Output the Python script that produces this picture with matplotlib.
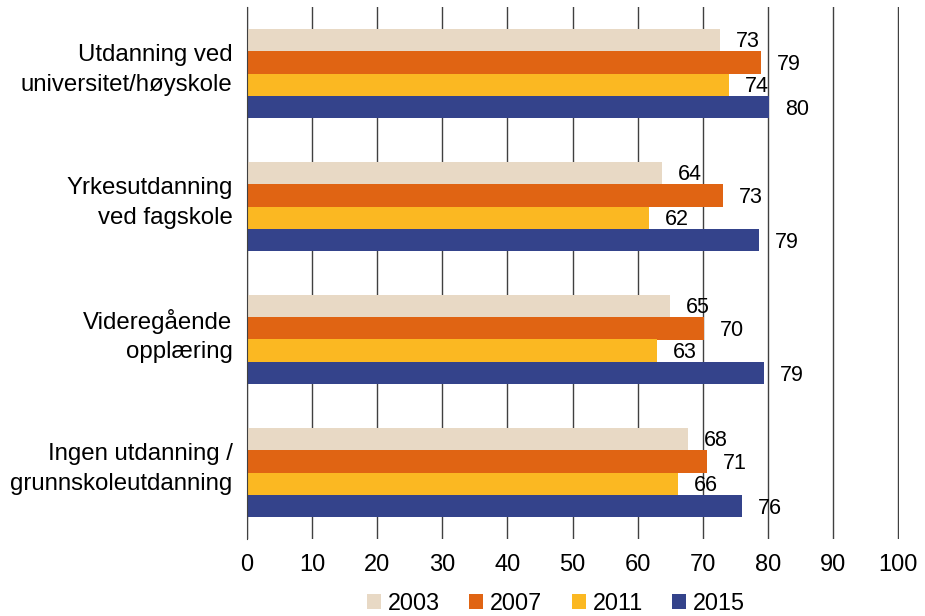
import matplotlib
matplotlib.use("Agg")
import matplotlib.pyplot as plt
import numpy as np

CATEGORIES = [
    "Utdanning ved\nuniversitet/høyskole",
    "Yrkesutdanning\nved fagskole",
    "Videregående\nopplæring",
    "Ingen utdanning /\ngrunnskoleutdanning",
]
YEARS = ["2003", "2007", "2011", "2015"]
VALUES = {
    "2003": [72.7, 63.7, 65.0, 67.8],
    "2007": [79.0, 73.1, 70.2, 70.7],
    "2011": [74.0, 61.7, 63.0, 66.2],
    "2015": [80.2, 78.6, 79.4, 76.0],
}
COLORS = ["#E8D9C5", "#E06413", "#FBB822", "#34438B"]
X_TICKS = list(range(0, 101, 10))

plt.rcParams["font.family"] = ["Liberation Sans", "DejaVu Sans"]

fig = plt.figure(figsize=(9.25, 6.16), dpi=100)
ax = fig.add_axes([247 / 925, 1 - 539 / 616, 652 / 925, 532 / 616])

bar_h = 0.169
y_base = np.arange(len(CATEGORIES))
for i, (year, color) in enumerate(zip(YEARS, COLORS)):
    y = y_base - 1.5 * bar_h + i * bar_h
    vals = VALUES[year]
    ax.barh(y, vals, height=bar_h, color=color, label=year, zorder=3)
    for yy, v in zip(y, vals):
        ax.annotate(f"{v:.0f}", (v, yy), xytext=(11.5, -1.5), textcoords="offset points",
                    ha="left", va="center", fontsize=15.5, color="black", zorder=4)

# category labels, drawn by hand so they can sit a little above the group centre
for yy, name in zip(y_base, CATEGORIES):
    ax.annotate(name, (0, yy), xycoords=("axes fraction", "data"),
                xytext=(-10.5, 2.5), textcoords="offset points",
                ha="right", va="center", fontsize=17.3, linespacing=1.45)

ax.set_xlim(0, 100.15)
ax.set_ylim(3.5, -0.5)
ax.set_xticks(X_TICKS)
ax.set_xticklabels([str(t) for t in X_TICKS], fontsize=17)
ax.set_yticks([])
ax.tick_params(axis="x", length=0, pad=11)
ax.xaxis.grid(True, color="#404040", linewidth=1.0, zorder=0)
for side in ["top", "right", "bottom"]:
    ax.spines[side].set_visible(False)
ax.spines["left"].set_color("#404040")
ax.spines["left"].set_zorder(5)

fig.legend(loc="center", bbox_to_anchor=(556 / 925, 1 - 603 / 616), ncol=4,
           frameon=False, fontsize=16.8, handlelength=0.6, handleheight=0.6,
           handletextpad=0.3, columnspacing=1.25, borderaxespad=0, borderpad=0)

fig.savefig("out.png", dpi=100)
